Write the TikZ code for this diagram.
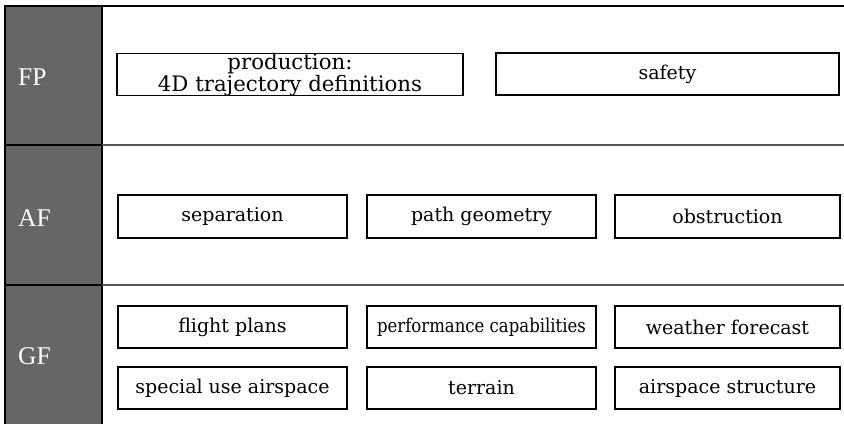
\documentclass[tikz,border=0pt]{standalone}
\usepackage{fontspec}
\setmainfont{DejaVu Serif}
\newfontfamily\labelfont{Liberation Serif}
\definecolor{colgray}{HTML}{666666}
\definecolor{sepgray}{HTML}{555555}
\begin{document}
\begin{tikzpicture}[x=1pt,y=-1pt,
  itembox/.style={draw=black,line width=1.3pt,fill=white,rectangle,inner sep=0pt,
    minimum height=42pt,align=center,font=\fontsize{19}{16}\selectfont},
  rowlabel/.style={anchor=base west,inner sep=0pt,text=white,font=\labelfont\fontsize{25.5}{25}\selectfont}]
\useasboundingbox (0,0) rectangle (844,424);
% dark column
\fill[colgray] (5,6) rectangle (102,424);
\draw[line width=1.5pt] (5,424) -- (5,6) -- (844,6);
\draw[line width=1.5pt] (102,6) -- (102,424);
% separators
\draw[sepgray,line width=1.3pt] (102,145) -- (844,145);
\draw[sepgray,line width=1.3pt] (102,285) -- (844,285);
\draw[line width=1.5pt] (5,145) -- (102,145);
\draw[line width=1.5pt] (5,285) -- (102,285);
% row labels
\node[rowlabel] (fp) at (18,85) {FP};
\node[rowlabel] (af) at (18,226) {AF};
\node[rowlabel] (gf) at (18,364) {GF};
% FP row
\node[itembox,minimum width=346pt,font=\fontsize{21.3}{17}\selectfont] (prod) at (290,74.5) {production:\\4D trajectory definitions};
\node[itembox,minimum width=343pt] (safety) at (667.5,74) {safety};
% AF row
\node[itembox,minimum width=229pt,minimum height=43pt] (sep) at (232.5,216.5) {separation};
\node[itembox,minimum width=229pt,minimum height=43pt] (path) at (481.5,216.5) {path geometry};
\node[itembox,minimum width=225pt,minimum height=43pt] (obst) at (727.5,216.5) {obstruction};
% GF rows
\node[itembox,minimum width=229pt] (fplans) at (232.5,327) {flight plans};
\node[itembox,minimum width=229pt] (perf) at (481.5,327) {\scalebox{0.87}[1]{performance capabilities}};
\node[itembox,minimum width=225pt] (wx) at (727.5,327) {weather forecast};
\node[itembox,minimum width=229pt] (sua) at (232.5,388) {special use airspace};
\node[itembox,minimum width=229pt] (terrain) at (481.5,388) {terrain};
\node[itembox,minimum width=225pt] (astruct) at (727.5,388) {airspace structure};
\end{tikzpicture}
\end{document}
